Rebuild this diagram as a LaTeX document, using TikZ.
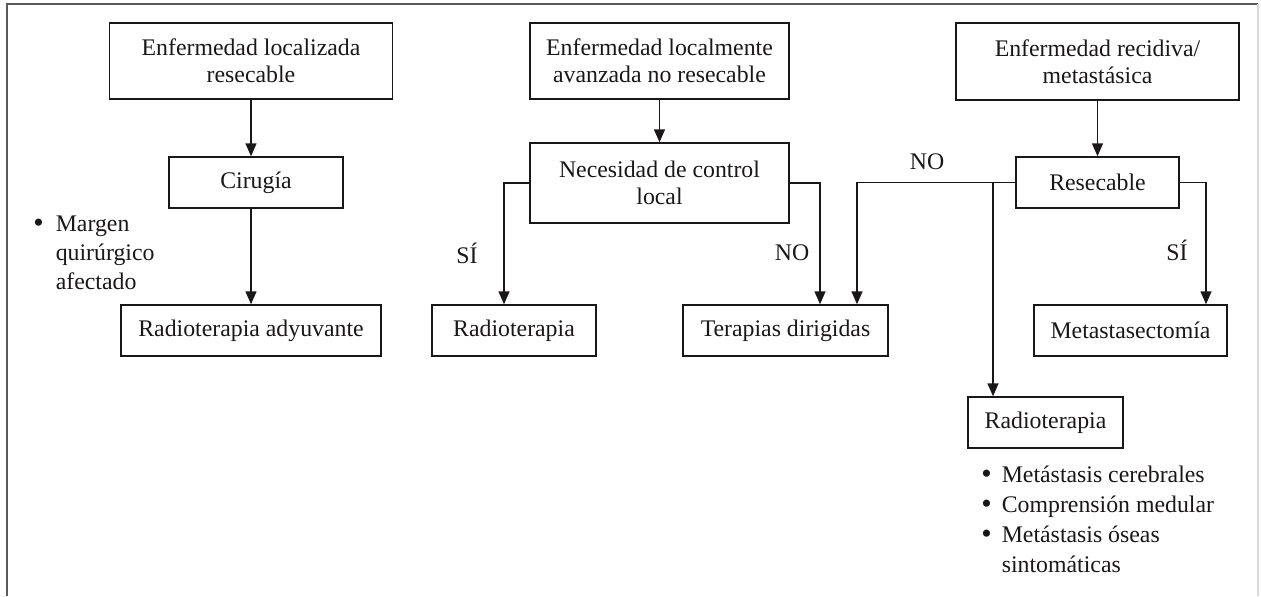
\documentclass[tikz,border=0pt]{standalone}
\usepackage{fontspec}
\setmainfont{Liberation Serif}
\usetikzlibrary{arrows.meta}
\definecolor{tinta}{HTML}{1A1718}
\definecolor{marco}{HTML}{5A5A5A}
\newcommand{\vineta}{\raisebox{-0.1ex}{\scalebox{1.25}{\textbullet}}}
\begin{document}
\begin{tikzpicture}[x=0.5pt, y=-0.5pt, color=tinta,
	caja/.style={draw, line width=0.75pt, inner sep=0pt, align=center,
		font=\fontsize{11.9}{13.5}\selectfont},
	flecha/.style={line width=0.75pt, -{Triangle[length=6.5pt, width=5.5pt]}},
	rotulo/.style={font=\fontsize{11.9}{13.5}\selectfont},
	lista/.style={inner sep=0pt, anchor=base west}]
	\useasboundingbox (0,0) rectangle (1261,596);
	% marco
	\draw[marco, line width=1pt] (7,596)--(7,4)--(1258,4);
	\draw[black!15, line width=0.8pt] (1258,4)--(1258,596);

	% columna izquierda
	\node[caja, minimum width=141.5pt, minimum height=38pt] (loc) at (251, 61) {Enfermedad localizada\\resecable};
	\node[caja, minimum width=87pt, minimum height=25.5pt] (cir) at (256, 182.5) {Cirugía};
	\node[caja, minimum width=130pt, minimum height=25.5pt] (rta) at (251, 330.5) {Radioterapia adyuvante};
	\node[lista, font=\fontsize{11.9}{14.5}\selectfont] (mar) at (33, 231)
		{\begin{tabular}[t]{@{}l@{\hspace{6pt}}l@{}}\vineta & Margen\\ & quirúrgico\\ & afectado\end{tabular}};
	\draw[flecha] (loc.south) -- (loc.south |- cir.north);
	\draw[flecha] (rta.north |- cir.south) -- (rta.north);

	% columna central
	\node[caja, minimum width=129.5pt, minimum height=38pt] (ava) at (659.5, 61) {Enfermedad localmente\\avanzada no resecable};
	\node[caja, minimum width=129.5pt, minimum height=40pt] (nec) at (659.5, 183) {Necesidad de control\\local};
	\node[caja, minimum width=82pt, minimum height=25.5pt] (rt1) at (514, 330.5) {Radioterapia};
	\node[caja, minimum width=102.5pt, minimum height=25.5pt] (ter) at (785.5, 330.5) {Terapias dirigidas};
	\node[rotulo] (si1) at (467, 253) {SÍ};
	\node[rotulo] (no1) at (792, 253) {NO};
	\draw[flecha] (ava.south) -- (nec.north);
	\draw[flecha] (nec.west) -| ([xshift=-5pt]rt1.north);
	\draw[flecha] (nec.east) -| ([xshift=17.25pt]ter.north);

	% columna derecha
	\node[caja, minimum width=141.5pt, minimum height=38.5pt] (rec) at (1097.5, 61.5) {Enfermedad recidiva/\\metastásica};
	\node[caja, minimum width=81.5pt, minimum height=25.5pt] (res) at (1097.5, 182.5) {Resecable};
	\node[caja, minimum width=96.5pt, minimum height=25.5pt] (met) at (1130.5, 330.5) {Metastasectomía};
	\node[caja, minimum width=77.5pt, minimum height=25.5pt] (rt2) at (1045.5, 422.5) {Radioterapia};
	\node[rotulo] (no2) at (927, 162) {NO};
	\node[rotulo] (si2) at (1177, 250) {SÍ};
	\node[lista, font=\fontsize{11.9}{15}\selectfont] (ind) at (981, 482)
		{\begin{tabular}[t]{@{}l@{\hspace{5pt}}l@{}}\vineta & Metástasis cerebrales\\ \vineta & Comprensión medular\\ \vineta & Metástasis óseas\\ & sintomáticas\end{tabular}};
	\draw[flecha] (rec.south) -- (res.north);
	\draw[flecha] (res.west) -| ([xshift=35.75pt]ter.north);
	\draw[flecha] ([xshift=-26.25pt]rt2.north |- res.west) -- ([xshift=-26.25pt]rt2.north);
	\draw[flecha] (res.east) -| ([xshift=37.75pt]met.north);
\end{tikzpicture}
\end{document}
